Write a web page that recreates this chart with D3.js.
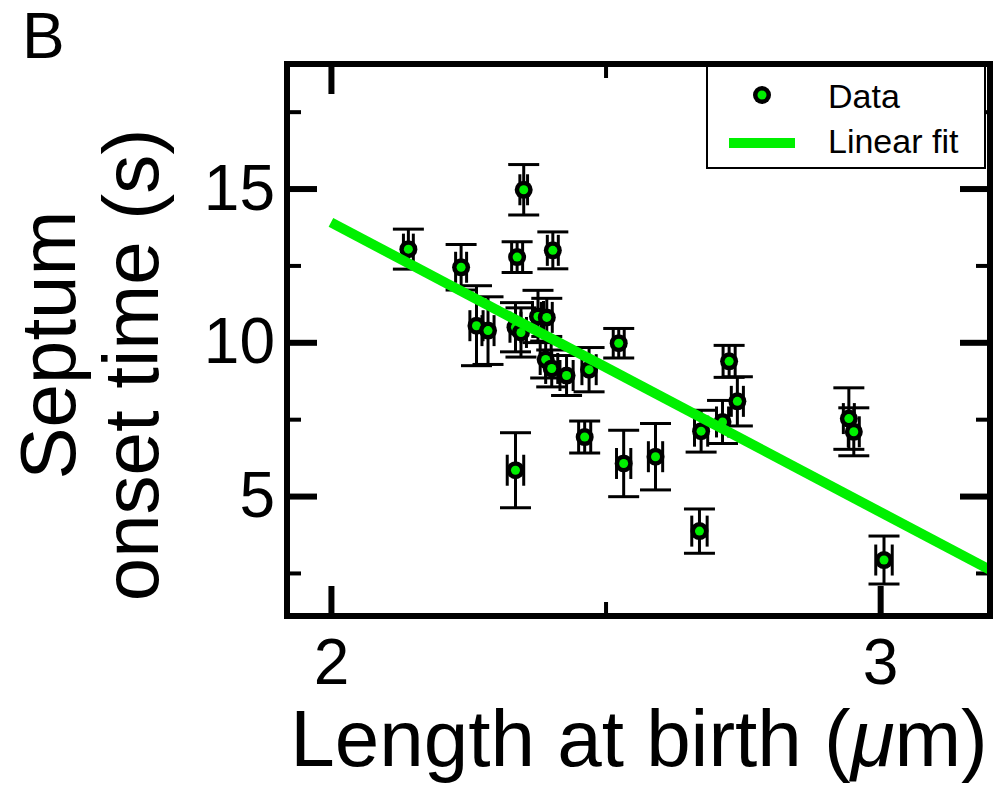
<!DOCTYPE html>
<html>
<head>
<meta charset="utf-8">
<script src="https://cdn.jsdelivr.net/npm/d3@7"></script>
<style>
  body { margin: 0; background: #fff; }
  svg { display: block; }
</style>
</head>
<body>
<div id="grafico"></div>
<script>
/* global d3 */

// Length at birth (um) and septum onset time (s)
const lengthAtBirth = [2.141, 2.237, 2.351, 2.339, 2.404, 2.265, 2.286, 2.336, 2.346, 2.377,
  2.393, 2.391, 2.402, 2.429, 2.470, 2.524, 2.336, 2.462, 2.533, 2.591,
  2.671, 2.674, 2.713, 2.725, 2.740, 2.943, 2.952, 3.007]
const onsetTime = [13.03, 12.44, 14.96, 12.77, 12.99, 10.54, 10.38, 10.49, 10.32, 10.84,
  10.81, 9.44, 9.15, 8.92, 9.11, 9.97, 5.84, 6.92, 6.06, 6.28,
  3.86, 7.11, 7.41, 9.38, 8.08, 7.52, 7.09, 2.92]
const lengthErr = [0.009, 0.010, 0.007, 0.010, 0.010, 0.012, 0.011, 0.010, 0.010, 0.010,
  0.010, 0.010, 0.011, 0.012, 0.013, 0.010, 0.015, 0.011, 0.013, 0.013,
  0.014, 0.012, 0.011, 0.011, 0.011, 0.010, 0.010, 0.015]
const onsetErr = [0.65, 0.74, 0.82, 0.50, 0.60, 1.30, 1.10, 0.80, 0.80, 0.85,
  0.62, 0.60, 0.60, 0.65, 0.72, 0.48, 1.22, 0.52, 1.08, 1.08,
  0.72, 0.68, 0.70, 0.52, 0.80, 1.00, 0.78, 0.78]

// linear fit, end points
const fitX = [2.0, 3.2]
const fitY = [13.9, 2.6]

const xMajor = [2, 3]
const xMinor = [2.5]
const yMajor = [5, 10, 15]
const yMinor = [2.5, 7.5, 12.5, 17.5]

const legendLabels = ['Data', 'Linear fit']

const width = 995
const height = 787
const margin = { top: 64, bottom: 171, left: 287, right: 5 }
const green = '#00f000'
const font = '"Liberation Sans", Arial, Helvetica, sans-serif'
const capHalf = 15.5

const data = lengthAtBirth.map((d, i) => ({
  x: d, y: onsetTime[i], xe: lengthErr[i], ye: onsetErr[i]
}))

const svg = d3.select('#grafico')
  .append('svg')
  .attr('width', width)
  .attr('height', height)
  .style('font-family', font)

const x = d3.scaleLinear()
  .domain([1.92, 3.2])
  .range([margin.left, width - margin.right])

const y = d3.scaleLinear()
  .domain([1.1, 19.05])
  .range([height - margin.bottom, margin.top])

// Eixos (ticks para dentro, dos quatro lados)

const tickStyle = (g, w) => {
  g.select('.domain').remove()
  g.selectAll('.tick line').attr('stroke', '#000').attr('stroke-width', w)
  g.selectAll('.tick text').attr('fill', '#000').style('font-family', font).style('font-size', '64px')
}

svg.append('g')
  .attr('transform', `translate(0,${height - margin.bottom})`)
  .call(d3.axisBottom(x).tickValues(xMajor).tickSize(-30).tickPadding(23).tickFormat(d3.format('d')))
  .call(g => tickStyle(g, 6))

svg.append('g')
  .attr('transform', `translate(0,${height - margin.bottom})`)
  .call(d3.axisBottom(x).tickValues(xMinor).tickSize(-14).tickFormat(''))
  .call(g => tickStyle(g, 4))

svg.append('g')
  .attr('transform', `translate(0,${margin.top})`)
  .call(d3.axisTop(x).tickValues(xMajor).tickSize(-30).tickFormat(''))
  .call(g => tickStyle(g, 6))

svg.append('g')
  .attr('transform', `translate(0,${margin.top})`)
  .call(d3.axisTop(x).tickValues(xMinor).tickSize(-14).tickFormat(''))
  .call(g => tickStyle(g, 4))

svg.append('g')
  .attr('transform', `translate(${margin.left},0)`)
  .call(d3.axisLeft(y).tickValues(yMajor).tickSize(-30).tickPadding(12).tickFormat(d3.format('d')))
  .call(g => tickStyle(g, 6))

svg.append('g')
  .attr('transform', `translate(${margin.left},0)`)
  .call(d3.axisLeft(y).tickValues(yMinor).tickSize(-14).tickFormat(''))
  .call(g => tickStyle(g, 4))

svg.append('g')
  .attr('transform', `translate(${width - margin.right},0)`)
  .call(d3.axisRight(y).tickValues(yMajor).tickSize(-30).tickFormat(''))
  .call(g => tickStyle(g, 6))

svg.append('g')
  .attr('transform', `translate(${width - margin.right},0)`)
  .call(d3.axisRight(y).tickValues(yMinor).tickSize(-14).tickFormat(''))
  .call(g => tickStyle(g, 4))

// Barras de erro

const err = svg.append('g')
  .attr('stroke', '#000')
  .attr('stroke-width', 3)
  .attr('fill', 'none')

const pts = err.selectAll('g')
  .data(data)
  .join('g')

pts.append('line')
  .attr('x1', d => x(d.x)).attr('x2', d => x(d.x))
  .attr('y1', d => y(d.y - d.ye)).attr('y2', d => y(d.y + d.ye))
pts.append('line')
  .attr('x1', d => x(d.x) - capHalf).attr('x2', d => x(d.x) + capHalf)
  .attr('y1', d => y(d.y + d.ye)).attr('y2', d => y(d.y + d.ye))
pts.append('line')
  .attr('x1', d => x(d.x) - capHalf).attr('x2', d => x(d.x) + capHalf)
  .attr('y1', d => y(d.y - d.ye)).attr('y2', d => y(d.y - d.ye))
pts.append('line')
  .attr('x1', d => x(d.x - d.xe)).attr('x2', d => x(d.x + d.xe))
  .attr('y1', d => y(d.y)).attr('y2', d => y(d.y))
pts.append('line')
  .attr('x1', d => x(d.x - d.xe)).attr('x2', d => x(d.x - d.xe))
  .attr('y1', d => y(d.y) - capHalf).attr('y2', d => y(d.y) + capHalf)
pts.append('line')
  .attr('x1', d => x(d.x + d.xe)).attr('x2', d => x(d.x + d.xe))
  .attr('y1', d => y(d.y) - capHalf).attr('y2', d => y(d.y) + capHalf)

// Marcadores

const marker = (sel) => {
  sel.append('circle').attr('r', 9).attr('fill', '#000')
  sel.append('circle').attr('r', 4.5).attr('fill', green)
}

svg.append('g')
  .selectAll('g')
  .data(data)
  .join('g')
  .attr('transform', d => `translate(${x(d.x)},${y(d.y)})`)
  .call(marker)

// Ajuste linear

svg.append('path')
  .datum(fitX.map((d, i) => [d, fitY[i]]))
  .attr('fill', 'none')
  .attr('stroke', green)
  .attr('stroke-width', 10)
  .attr('d', d3.line().x(d => x(d[0])).y(d => y(d[1])))

// Legenda

const legend = svg.append('g')

legend.append('rect')
  .attr('x', 707)
  .attr('y', margin.top)
  .attr('width', 278)
  .attr('height', 104)
  .attr('fill', '#fff')
  .attr('stroke', '#000')
  .attr('stroke-width', 2)

legend.append('g')
  .attr('transform', 'translate(762,95)')
  .call(marker)

legend.append('line')
  .attr('x1', 729).attr('x2', 795)
  .attr('y1', 143).attr('y2', 143)
  .attr('stroke', green)
  .attr('stroke-width', 10)

legend.selectAll('text')
  .data(legendLabels)
  .join('text')
  .attr('x', 828)
  .attr('y', (d, i) => 108 + i * 45)
  .style('font-size', '34px')
  .text(d => d)

// Moldura

svg.append('rect')
  .attr('x', margin.left)
  .attr('y', margin.top)
  .attr('width', width - margin.left - margin.right)
  .attr('height', height - margin.top - margin.bottom)
  .attr('fill', 'none')
  .attr('stroke', '#000')
  .attr('stroke-width', 6)

// Titulos

svg.append('text')
  .attr('x', 22)
  .attr('y', 58)
  .style('font-size', '64px')
  .text('B')

const xTitle = svg.append('text')
  .attr('x', 639)
  .attr('y', 766)
  .attr('text-anchor', 'middle')
  .style('font-size', '80px')
xTitle.append('tspan').text('Length at birth (')
xTitle.append('tspan').style('font-style', 'italic').text('μ')
xTitle.append('tspan').text('m)')

svg.append('text')
  .attr('text-anchor', 'middle')
  .attr('transform', 'translate(75,345) rotate(-90)')
  .style('font-size', '78px')
  .text('Septum')

svg.append('text')
  .attr('text-anchor', 'middle')
  .attr('transform', 'translate(158,365) rotate(-90)')
  .style('font-size', '78px')
  .text('onset time (s)')
</script>
</body>
</html>
